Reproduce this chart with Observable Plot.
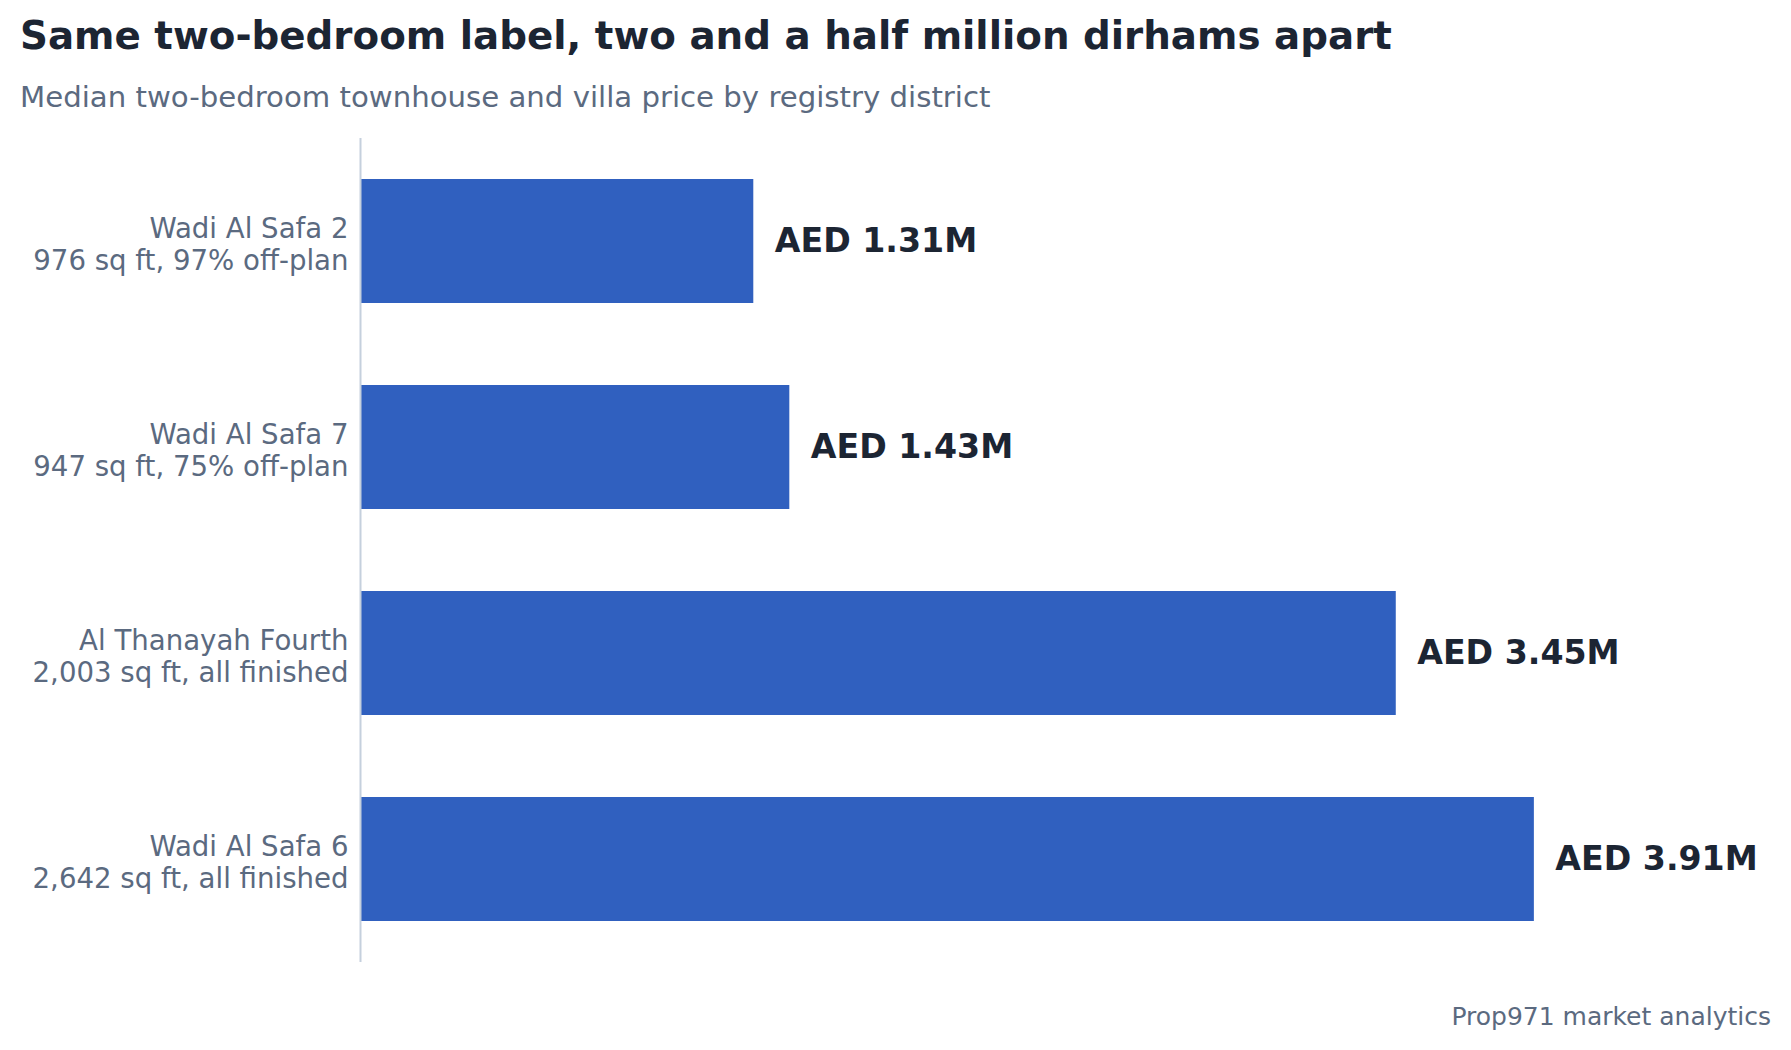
<!DOCTYPE html>
<html>
<head>
<meta charset="utf-8">
<script src="https://cdn.jsdelivr.net/npm/d3@7"></script>
<script src="https://cdn.jsdelivr.net/npm/@observablehq/plot@0.6"></script>
<style>
  html, body { margin: 0; padding: 0; background: #ffffff; }
  #wrap { position: relative; width: 1791px; height: 1050px; font-family: "DejaVu Sans", sans-serif; overflow: hidden; }
  .title { position: absolute; left: 20px; top: 16.5px; font-size: 38.8px; line-height: 38.8px; font-weight: bold; color: #1c2533; white-space: nowrap; }
  .subtitle { position: absolute; left: 20px; top: 83px; font-size: 29.2px; line-height: 29.2px; color: #5b6a80; white-space: nowrap; }
  #chart { position: absolute; left: 0; top: 120px; }
  .caption { position: absolute; right: 20px; top: 1004px; font-size: 25px; line-height: 25px; color: #5b6a80; white-space: nowrap; }
</style>
</head>
<body>
<div id="wrap">
  <div class="title">Same two-bedroom label, two and a half million dirhams apart</div>
  <div class="subtitle">Median two-bedroom townhouse and villa price by registry district</div>
  <div id="chart"></div>
  <div class="caption">Prop971 market analytics</div>
</div>
<script>
const districts = ["Wadi Al Safa 2", "Wadi Al Safa 7", "Al Thanayah Fourth", "Wadi Al Safa 6"];
const details = ["976 sq ft, 97% off-plan", "947 sq ft, 75% off-plan", "2,003 sq ft, all finished", "2,642 sq ft, all finished"];
const prices = [1.31, 1.43, 3.45, 3.91]; // AED millions

const rows = districts.map((d, i) => ({district: d, detail: details[i], price: prices[i]}));
const detailOf = new Map(rows.map(r => [r.district, r.detail]));

const chart = Plot.plot({
  width: 1791,
  height: 860,
  marginLeft: 360,
  marginRight: 80,
  marginTop: 18,
  marginBottom: 18,
  style: {fontFamily: "DejaVu Sans, sans-serif", color: "#5b6a80", background: "#ffffff"},
  x: {domain: [0, 4.5], axis: null},
  y: {domain: districts, paddingInner: 0.4, paddingOuter: 0.2, label: null},
  marks: [
    Plot.barX(rows, {y: "district", x: "price", fill: "#3060bf"}),
    Plot.ruleX([0], {stroke: "#c5d0dd", strokeWidth: 2}),
    Plot.axisY({
      tickSize: 0,
      tickPadding: 12,
      fontSize: 27.6,
      lineHeight: 1.18,
      dy: 2,
      fill: "#5b6a80",
      label: null,
      tickFormat: d => d + "\n" + detailOf.get(d)
    }),
    Plot.text(rows, {
      y: "district",
      x: "price",
      text: d => "AED " + d.price.toFixed(2) + "M",
      dx: 21,
      textAnchor: "start",
      fontSize: 33.2,
      fontWeight: "bold",
      fill: "#1c2533"
    })
  ]
});
document.getElementById("chart").appendChild(chart);
</script>
</body>
</html>
